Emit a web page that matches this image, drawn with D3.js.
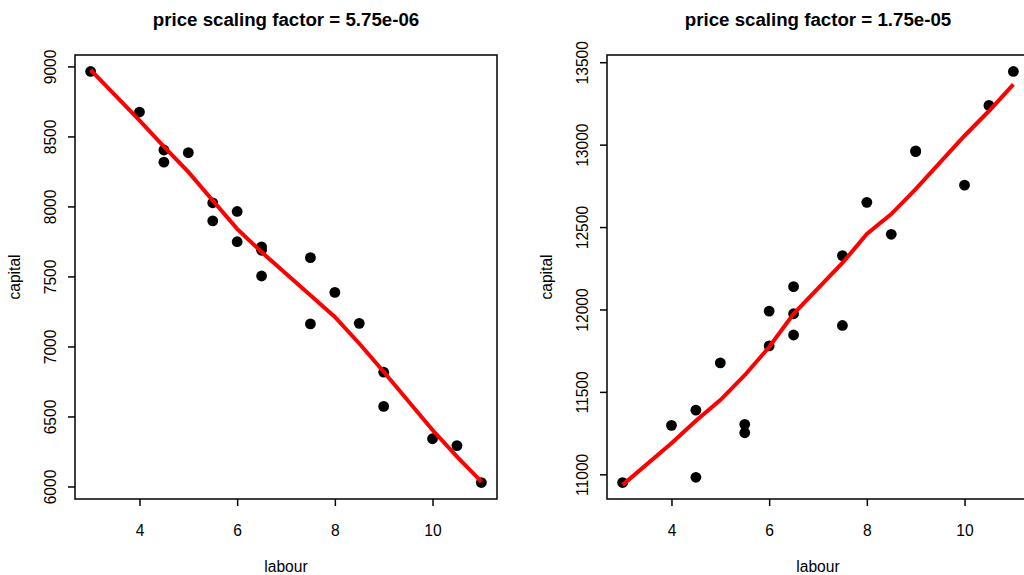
<!DOCTYPE html>
<html>
<head>
<meta charset="utf-8">
<script src="https://cdn.jsdelivr.net/npm/d3@7"></script>
<style>
  body { margin: 0; background: #fff; }
  svg { font-family: "Liberation Sans", Arial, sans-serif; }
</style>
</head>
<body>
<svg id="chart" width="1024" height="575"></svg>
<script>
const width = 1024;
const height = 575;

// labour values (shared by both panels)
const labour = [3, 4, 4.5, 4.5, 5, 5.5, 5.5, 6, 6, 6.5, 6.5, 6.5, 7.5, 7.5, 8, 8.5, 9, 9, 10, 10.5, 11];

// capital, left panel (price scaling factor = 5.75e-06)
const capitalA = [8964, 8674, 8403, 8316, 8384, 8026, 7897, 7964, 7748, 7711, 7687, 7503,
                  7634, 7161, 7386, 7165, 6816, 6572, 6341, 6292, 6028];
// capital, right panel (price scaling factor = 1.75e-05)
const capitalB = [10950, 11297, 11389, 10982, 11676, 11303, 11252, 11990, 11779, 12139, 11974, 11845,
                  12327, 11903, 12650, 12456, 12962, 12958, 12754, 13238, 13444];

// smoothed curve (lowess) read at the distinct labour values
const smoothX = [3, 4, 4.5, 5, 5.5, 6, 6.5, 7.5, 8, 8.5, 9, 10, 10.5, 11];
const smoothA = [8975, 8615, 8427, 8247, 8042, 7840, 7674, 7365, 7211, 7021, 6819, 6403, 6213, 6035];
const smoothB = [10936, 11188, 11325, 11450, 11601, 11772, 11974, 12282, 12458, 12579, 12730, 13054, 13204, 13365];

const titles = ["price scaling factor = 5.75e-06", "price scaling factor = 1.75e-05"];
const yTicksA = [6000, 6500, 7000, 7500, 8000, 8500, 9000];
const yTicksB = [11000, 11500, 12000, 12500, 13000, 13500];
const xTicks = [4, 6, 8, 10];

const svg = d3.select("#chart");
const labelSize = 15.6;

// R style: extend the data range by 4% on each side
function padded(vals) {
    const [lo, hi] = d3.extent(vals);
    const p = (hi - lo) * 0.04;
    return [lo - p, hi + p];
}

function panel(left, ys, smooth, title, yTicks) {
    const top = 55, bottom = 499, boxW = 422;
    const g = svg.append("g");

    const x = d3.scaleLinear().domain(padded(labour)).range([left, left + boxW]);
    const y = d3.scaleLinear().domain(padded(ys)).range([bottom, top]);

    g.append("text")
        .attr("x", left + boxW / 2)
        .attr("y", 25.5)
        .attr("text-anchor", "middle")
        .attr("font-size", 18.7)
        .attr("font-weight", "bold")
        .text(title);

    const xAxis = g.append("g")
        .attr("transform", `translate(0,${bottom})`)
        .call(d3.axisBottom(x).tickValues(xTicks).tickSize(7).tickFormat(d3.format("d")));
    xAxis.select(".domain").remove();
    xAxis.selectAll(".tick text").attr("y", 36.6).attr("dy", null);

    const yAxis = g.append("g")
        .attr("transform", `translate(${left},0)`)
        .call(d3.axisLeft(y).tickValues(yTicks).tickSize(7).tickPadding(0).tickFormat(d3.format("d")));
    yAxis.select(".domain").remove();
    yAxis.selectAll(".tick text")
        .attr("x", 0).attr("dy", null)
        .attr("text-anchor", "middle")
        .attr("transform", `translate(-19.5,0) rotate(-90)`);

    g.selectAll(".tick line").attr("stroke", "#000").attr("stroke-width", 1.5);
    g.selectAll(".tick text").attr("font-size", labelSize).attr("fill", "#000")
        .attr("font-family", "Liberation Sans, Arial, sans-serif");

    g.append("rect")
        .attr("x", left).attr("y", top)
        .attr("width", boxW).attr("height", bottom - top)
        .attr("fill", "none").attr("stroke", "#000").attr("stroke-width", 1.5);

    g.append("text")
        .attr("x", left + boxW / 2).attr("y", 571.5)
        .attr("text-anchor", "middle").attr("font-size", labelSize)
        .text("labour");

    g.append("text")
        .attr("transform", `translate(${left - 55},${(top + bottom) / 2}) rotate(-90)`)
        .attr("text-anchor", "middle").attr("font-size", labelSize)
        .text("capital");

    g.append("g").selectAll("circle")
        .data(labour.map((d, i) => [d, ys[i]]))
        .enter().append("circle")
        .attr("cx", d => x(d[0]))
        .attr("cy", d => y(d[1]))
        .attr("r", 5.4)
        .attr("fill", "#000");

    const line = d3.line().x(d => x(d[0])).y(d => y(d[1]));
    g.append("path")
        .datum(smoothX.map((d, i) => [d, smooth[i]]))
        .attr("d", line)
        .attr("fill", "none")
        .attr("stroke", "#ff0000")
        .attr("stroke-width", 4);
}

panel(75, capitalA, smoothA, titles[0], yTicksA);
panel(607, capitalB, smoothB, titles[1], yTicksB);
</script>
</body>
</html>
